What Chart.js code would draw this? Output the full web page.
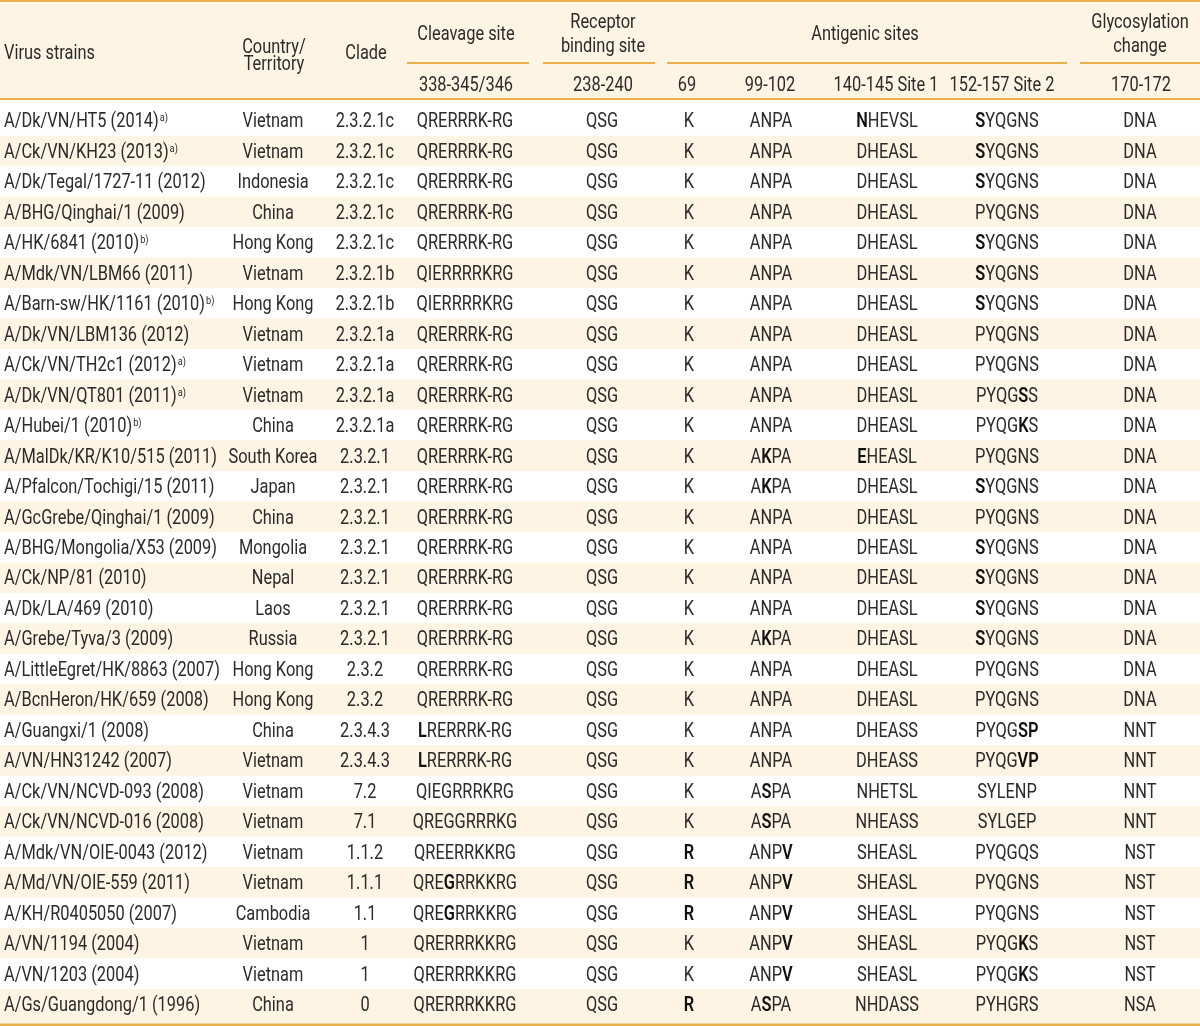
<!DOCTYPE html>
<html>
<head>
<meta charset="utf-8">
<script src="https://cdn.jsdelivr.net/npm/chart.js@4.4.0/dist/chart.umd.min.js"></script>
<style>
html, body { margin: 0; padding: 0; background: #fff; }
#wrap { width: 1200px; height: 1026px; }
</style>
</head>
<body>
<div id="wrap"><canvas id="myChart"></canvas></div>
<script>
// table content; letters inside [ ] are printed bold
var strains = ['A/Dk/VN/HT5 (2014)', 'A/Ck/VN/KH23 (2013)', 'A/Dk/Tegal/1727-11 (2012)', 'A/BHG/Qinghai/1 (2009)', 'A/HK/6841 (2010)',
    'A/Mdk/VN/LBM66 (2011)', 'A/Barn-sw/HK/1161 (2010)', 'A/Dk/VN/LBM136 (2012)', 'A/Ck/VN/TH2c1 (2012)', 'A/Dk/VN/QT801 (2011)',
    'A/Hubei/1 (2010)', 'A/MalDk/KR/K10/515 (2011)', 'A/Pfalcon/Tochigi/15 (2011)', 'A/GcGrebe/Qinghai/1 (2009)', 'A/BHG/Mongolia/X53 (2009)',
    'A/Ck/NP/81 (2010)', 'A/Dk/LA/469 (2010)', 'A/Grebe/Tyva/3 (2009)', 'A/LittleEgret/HK/8863 (2007)', 'A/BcnHeron/HK/659 (2008)',
    'A/Guangxi/1 (2008)', 'A/VN/HN31242 (2007)', 'A/Ck/VN/NCVD-093 (2008)', 'A/Ck/VN/NCVD-016 (2008)', 'A/Mdk/VN/OIE-0043 (2012)',
    'A/Md/VN/OIE-559 (2011)', 'A/KH/R0405050 (2007)', 'A/VN/1194 (2004)', 'A/VN/1203 (2004)', 'A/Gs/Guangdong/1 (1996)'];
var notes = ['a)', 'a)', '', '', 'b)', '', 'b)', '', 'a)', 'a)', 'b)', '', '', '', '', '', '', '', '', '', '', '', '', '', '', '', '', '', '', ''];
var countries = ['Vietnam', 'Vietnam', 'Indonesia', 'China', 'Hong Kong', 'Vietnam', 'Hong Kong', 'Vietnam', 'Vietnam', 'Vietnam',
    'China', 'South Korea', 'Japan', 'China', 'Mongolia', 'Nepal', 'Laos', 'Russia', 'Hong Kong', 'Hong Kong',
    'China', 'Vietnam', 'Vietnam', 'Vietnam', 'Vietnam', 'Vietnam', 'Cambodia', 'Vietnam', 'Vietnam', 'China'];
var clades = ['2.3.2.1c', '2.3.2.1c', '2.3.2.1c', '2.3.2.1c', '2.3.2.1c', '2.3.2.1b', '2.3.2.1b', '2.3.2.1a', '2.3.2.1a', '2.3.2.1a',
    '2.3.2.1a', '2.3.2.1', '2.3.2.1', '2.3.2.1', '2.3.2.1', '2.3.2.1', '2.3.2.1', '2.3.2.1', '2.3.2', '2.3.2',
    '2.3.4.3', '2.3.4.3', '7.2', '7.1', '1.1.2', '1.1.1', '1.1', '1', '1', '0'];
var cleavage = ['QRERRRK-RG', 'QRERRRK-RG', 'QRERRRK-RG', 'QRERRRK-RG', 'QRERRRK-RG', 'QIERRRRKRG', 'QIERRRRKRG', 'QRERRRK-RG', 'QRERRRK-RG', 'QRERRRK-RG',
    'QRERRRK-RG', 'QRERRRK-RG', 'QRERRRK-RG', 'QRERRRK-RG', 'QRERRRK-RG', 'QRERRRK-RG', 'QRERRRK-RG', 'QRERRRK-RG', 'QRERRRK-RG', 'QRERRRK-RG',
    '[L]RERRRK-RG', '[L]RERRRK-RG', 'QIEGRRRKRG', 'QREGGRRRKG', 'QREERRKKRG', 'QRE[G]RRKKRG', 'QRE[G]RRKKRG', 'QRERRRKKRG', 'QRERRRKKRG', 'QRERRRKKRG'];
var receptor = ['QSG', 'QSG', 'QSG', 'QSG', 'QSG', 'QSG', 'QSG', 'QSG', 'QSG', 'QSG', 'QSG', 'QSG', 'QSG', 'QSG', 'QSG',
    'QSG', 'QSG', 'QSG', 'QSG', 'QSG', 'QSG', 'QSG', 'QSG', 'QSG', 'QSG', 'QSG', 'QSG', 'QSG', 'QSG', 'QSG'];
var site69 = ['K', 'K', 'K', 'K', 'K', 'K', 'K', 'K', 'K', 'K', 'K', 'K', 'K', 'K', 'K',
    'K', 'K', 'K', 'K', 'K', 'K', 'K', 'K', 'K', '[R]', '[R]', '[R]', 'K', 'K', '[R]'];
var site99 = ['ANPA', 'ANPA', 'ANPA', 'ANPA', 'ANPA', 'ANPA', 'ANPA', 'ANPA', 'ANPA', 'ANPA', 'ANPA', 'A[K]PA', 'A[K]PA', 'ANPA', 'ANPA',
    'ANPA', 'ANPA', 'A[K]PA', 'ANPA', 'ANPA', 'ANPA', 'ANPA', 'A[S]PA', 'A[S]PA', 'ANP[V]', 'ANP[V]', 'ANP[V]', 'ANP[V]', 'ANP[V]', 'A[S]PA'];
var site140 = ['[N]HEVSL', 'DHEASL', 'DHEASL', 'DHEASL', 'DHEASL', 'DHEASL', 'DHEASL', 'DHEASL', 'DHEASL', 'DHEASL',
    'DHEASL', '[E]HEASL', 'DHEASL', 'DHEASL', 'DHEASL', 'DHEASL', 'DHEASL', 'DHEASL', 'DHEASL', 'DHEASL',
    'DHEASS', 'DHEASS', 'NHETSL', 'NHEASS', 'SHEASL', 'SHEASL', 'SHEASL', 'SHEASL', 'SHEASL', 'NHDASS'];
var site152 = ['[S]YQGNS', '[S]YQGNS', '[S]YQGNS', 'PYQGNS', '[S]YQGNS', '[S]YQGNS', '[S]YQGNS', 'PYQGNS', 'PYQGNS', 'PYQG[S]S',
    'PYQG[K]S', 'PYQGNS', '[S]YQGNS', 'PYQGNS', '[S]YQGNS', '[S]YQGNS', '[S]YQGNS', '[S]YQGNS', 'PYQGNS', 'PYQGNS',
    'PYQG[SP]', 'PYQG[VP]', 'SYLENP', 'SYLGEP', 'PYQGQS', 'PYQGNS', 'PYQGNS', 'PYQG[K]S', 'PYQG[K]S', 'PYHGRS'];
var glyco = ['DNA', 'DNA', 'DNA', 'DNA', 'DNA', 'DNA', 'DNA', 'DNA', 'DNA', 'DNA', 'DNA', 'DNA', 'DNA', 'DNA', 'DNA',
    'DNA', 'DNA', 'DNA', 'DNA', 'DNA', 'NNT', 'NNT', 'NNT', 'NNT', 'NST', 'NST', 'NST', 'NST', 'NST', 'NSA'];

var columnTitles = ['Virus strains', 'Country/\nTerritory', 'Clade', 'Cleavage site', 'Receptor\nbinding site', 'Antigenic sites', 'Glycosylation\nchange'];
var subTitles = ['338-345/346', '238-240', '69', '99-102', '140-145 Site 1', '152-157 Site 2', '170-172'];

// layout (x in px, y in row units)
var columns = [strains, countries, clades, cleavage, receptor, site69, site99, site140, site152, glyco];
var colX = [4, 273, 365, 465, 602, 689, 771, 887, 1007, 1140];
var titleX = [4, 274, 366, 466, 603, 865, 1140];
var titleY = [[-2.262], [-2.445, -1.887], [-2.262], [-2.872], [-3.249, -2.478], [-2.872], [-3.249, -2.478]];
var subX = [466, 603, 687, 770, 886, 1002, 1141];
var subY = -1.198;
var groupLines = [[407, 529], [543, 655], [667, 1067], [1080, 1200]];
var topLine = -3.922, groupLine = -1.894, headLine = -0.722, bottomLine = 29.685;

var FONT = 'Roboto, "Liberation Sans", sans-serif';
var SIZE = 19.5, SX = 0.84;
var TEXT = '#2b2b2b', BOLD = '#111111', BEIGE = '#fdf4e3', GOLD = '#e9b14c';

function fontFor(bold, size) {
    return (bold ? '600 ' : '400 ') + size + 'px ' + FONT;
}

function drawRich(ctx, str, x, yc, align, size) {
    var parts = [], re = /\[([^\]]*)\]|([^\[]+)/g, m, w = 0;
    while ((m = re.exec(str))) {
        parts.push(m[1] !== undefined ? { t: m[1], b: true } : { t: m[2], b: false });
    }
    parts.forEach(function (p) {
        ctx.font = fontFor(p.b, size);
        p.w = ctx.measureText(p.t).width;
        w += p.w;
    });
    ctx.save();
    ctx.translate(x, yc + size * 0.355);
    ctx.scale(SX, 1);
    ctx.textBaseline = 'alphabetic';
    ctx.textAlign = 'left';
    var cx = align === 'left' ? 0 : -w / 2;
    parts.forEach(function (p) {
        ctx.font = fontFor(p.b, size);
        ctx.fillStyle = p.b ? BOLD : TEXT;
        ctx.fillText(p.t, cx, 0);
        cx += p.w;
    });
    ctx.restore();
    return x + cx * SX;
}

var tablePlugin = {
    id: 'table',
    beforeDraw: function (chart) {
        var ctx = chart.ctx, y = chart.scales.y, W = chart.width;
        ctx.save();
        ctx.fillStyle = '#fff';
        ctx.fillRect(0, 0, W, chart.height);
        // header band
        ctx.fillStyle = BEIGE;
        ctx.fillRect(0, y.getPixelForValue(topLine), W, y.getPixelForValue(headLine) - y.getPixelForValue(topLine));
        // striped rows
        strains.forEach(function (s, i) {
            if (i % 2 === 1) {
                var top = y.getPixelForValue(i - 0.5);
                var bot = i === strains.length - 1 ? y.getPixelForValue(bottomLine) : y.getPixelForValue(i + 0.5);
                ctx.fillRect(0, top, W, bot - top);
            }
        });
        ctx.strokeStyle = GOLD;
        ctx.lineWidth = 2;
        [topLine, headLine].forEach(function (v) {
            var p = Math.round(y.getPixelForValue(v));
            ctx.beginPath(); ctx.moveTo(0, p); ctx.lineTo(W, p); ctx.stroke();
        });
        var gp = Math.round(y.getPixelForValue(groupLine));
        groupLines.forEach(function (seg) {
            ctx.beginPath(); ctx.moveTo(seg[0], gp); ctx.lineTo(seg[1], gp); ctx.stroke();
        });
        ctx.lineWidth = 3;
        var bp = y.getPixelForValue(bottomLine);
        ctx.beginPath(); ctx.moveTo(0, bp); ctx.lineTo(W, bp); ctx.stroke();
        ctx.restore();
    },
    afterDatasetsDraw: function (chart) {
        var ctx = chart.ctx, x = chart.scales.x, y = chart.scales.y;
        // headers
        columnTitles.forEach(function (t, c) {
            t.split('\n').forEach(function (line, k) {
                drawRich(ctx, line, x.getPixelForValue(titleX[c]), y.getPixelForValue(titleY[c][k]), c === 0 ? 'left' : 'center', SIZE);
            });
        });
        subTitles.forEach(function (t, c) {
            drawRich(ctx, t, x.getPixelForValue(subX[c]), y.getPixelForValue(subY), 'center', SIZE);
        });
        // cells, placed at each dataset point
        chart.data.datasets.forEach(function (ds, c) {
            var meta = chart.getDatasetMeta(c);
            meta.data.forEach(function (pt, i) {
                var endX = drawRich(ctx, columns[c][i], pt.x, pt.y, c === 0 ? 'left' : 'center', SIZE);
                if (c === 0 && notes[i]) {
                    ctx.save();
                    ctx.translate(endX + 1, pt.y + SIZE * 0.355 - 6);
                    ctx.scale(SX, 1);
                    ctx.font = fontFor(false, 11);
                    ctx.fillStyle = TEXT;
                    ctx.fillText(notes[i], 0, 0);
                    ctx.restore();
                }
            });
        });
    }
};

var ctx = document.getElementById('myChart').getContext('2d');
var myChart = new Chart(ctx, {
    type: 'scatter',
    data: {
        datasets: columns.map(function (col, c) {
            return {
                data: col.map(function (v, i) { return { x: colX[c], y: i }; }),
                pointRadius: 0,
                showLine: false
            };
        })
    },
    options: {
        responsive: true,
        maintainAspectRatio: false,
        animation: false,
        events: [],
        layout: { padding: 0 },
        plugins: { legend: { display: false }, tooltip: { enabled: false } },
        scales: {
            x: { type: 'linear', display: false, min: 0, max: 1200 },
            y: { type: 'linear', display: false, min: -3.955, max: 29.717, reverse: true }
        }
    },
    plugins: [tablePlugin]
});
</script>
</body>
</html>
